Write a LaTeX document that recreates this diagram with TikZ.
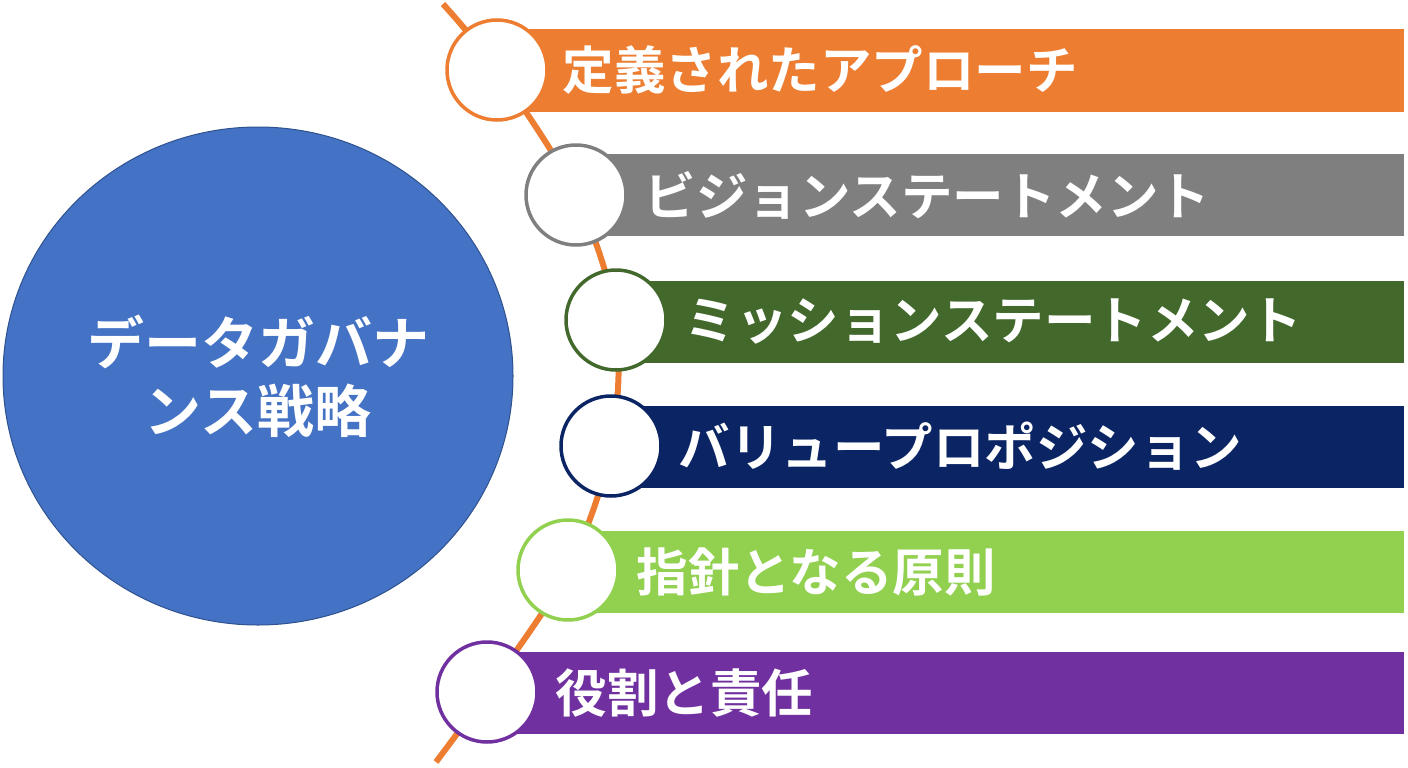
\documentclass[tikz,border=0pt]{standalone}
\usepackage{fontspec}
\usetikzlibrary{shapes.geometric}
\setmainfont{Noto Sans CJK JP}[BoldFont={* Bold}]
\newfontfamily\jpbold{Noto Sans CJK JP Bold}
\definecolor{cOrange}{HTML}{ED7D31}
\definecolor{cGray}{HTML}{7F7F7F}
\definecolor{cDGreen}{HTML}{43682B}
\definecolor{cNavy}{HTML}{0B2464}
\definecolor{cLGreen}{HTML}{92D050}
\definecolor{cPurple}{HTML}{7030A0}
\definecolor{cBlue}{HTML}{4472C4}
\definecolor{cBlueEdge}{HTML}{2F528F}
\begin{document}
\begin{tikzpicture}[x=1pt,y=-1pt,
  barbox/.style={draw=none,fill=#1,rectangle,inner sep=0pt,anchor=west,minimum height=82pt},
  ringnode/.style={circle,draw=#1,fill=white,line width=3.5pt,minimum size=100pt,inner sep=0pt},
  bartext/.style={anchor=west,text=white,font=\jpbold\fontsize{51.5}{60}\selectfont,inner sep=0pt},
  spine/.style={draw=cOrange,line width=6pt}]
\useasboundingbox (0,0) rectangle (1408,768);
% spine coordinates
\coordinate (top) at (443,4);
\coordinate (bot) at (436,762);
\coordinate (p1) at (497,70);
\coordinate (p2) at (576,195);
\coordinate (p3) at (616,320);
\coordinate (p4) at (611,446);
\coordinate (p5) at (568,570);
\coordinate (p6) at (487,692);
% main circle
\node[ellipse,draw=cBlueEdge,fill=cBlue,line width=1pt,minimum width=510pt,minimum height=498pt,inner sep=0pt,
  text=white,font=\jpbold\fontsize{57}{68}\selectfont,align=center] (main) at (258,376)
  {データガバナ\\ンス戦略};
% spine
\draw[spine] plot[smooth,tension=0.55] coordinates {(top) (p1) (p2) (p3) (p4) (p5) (p6) (bot)};
% bars
\node[barbox=cOrange,minimum width=907pt] (b1) at (497,70.5) {};
\node[barbox=cGray,minimum width=828pt] (b2) at (576,195) {};
\node[barbox=cDGreen,minimum width=788pt] (b3) at (616,321.5) {};
\node[barbox=cNavy,minimum width=793pt] (b4) at (611,446.5) {};
\node[barbox=cLGreen,minimum width=836pt] (b5) at (568,571.5) {};
\node[barbox=cPurple,minimum width=917pt] (b6) at (487,692.5) {};
% rings
\node[ringnode=cOrange] (r1) at (p1) {};
\node[ringnode=cGray] (r2) at (p2) {};
\node[ringnode=cDGreen] (r3) at (p3) {};
\node[ringnode=cNavy] (r4) at (p4) {};
\node[ringnode=cLGreen] (r5) at (p5) {};
\node[ringnode=cPurple] (r6) at (p6) {};
% labels
\node[bartext] (t1) at ([xshift=14pt]r1.east |- b1.west) {定義されたアプローチ};
\node[bartext] (t2) at ([xshift=17pt]r2.east |- b2.west) {ビジョンステートメント};
\node[bartext] (t3) at ([xshift=17pt]r3.east |- b3.west) {ミッションステートメント};
\node[bartext] (t4) at ([xshift=16pt]r4.east |- b4.west) {バリュープロポジション};
\node[bartext] (t5) at ([xshift=17pt]r5.east |- b5.west) {指針となる原則};
\node[bartext] (t6) at ([xshift=17pt]r6.east |- b6.west) {役割と責任};
\end{tikzpicture}
\end{document}
